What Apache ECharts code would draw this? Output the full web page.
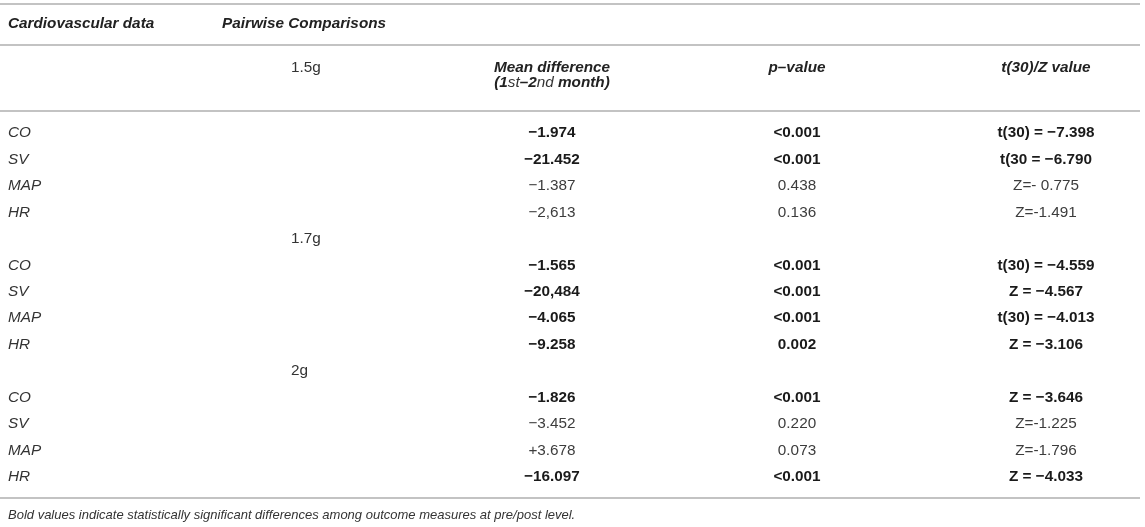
<!DOCTYPE html>
<html>
<head>
<meta charset="utf-8">
<script src="https://cdn.jsdelivr.net/npm/echarts@6/dist/echarts.min.js"></script>
<style>
  html, body { margin: 0; padding: 0; background: #fff; }
  #main { width: 1145px; height: 527px; }
</style>
</head>
<body>
<div id="main"></div>
<script>
// table contents
var headerLabels = ['Cardiovascular data', 'Pairwise Comparisons'];
var columnTitles = ['Mean difference', 'p–value', 't(30)/Z value'];
var groupLabels = ['1.5g', '1.7g', '2g'];
var measureLabels = ['CO', 'SV', 'MAP', 'HR'];
var meanDifference = ['−1.974', '−21.452', '−1.387', '−2,613',
                      '−1.565', '−20,484', '−4.065', '−9.258',
                      '−1.826', '−3.452', '+3.678', '−16.097'];
var pValues = ['<0.001', '<0.001', '0.438', '0.136',
               '<0.001', '<0.001', '<0.001', '0.002',
               '<0.001', '0.220', '0.073', '<0.001'];
var testValues = ['t(30) = −7.398', 't(30 = −6.790', 'Z=- 0.775', 'Z=-1.491',
                  't(30) = −4.559', 'Z = −4.567', 't(30) = −4.013', 'Z = −3.106',
                  'Z = −3.646', 'Z=-1.225', 'Z=-1.796', 'Z = −4.033'];
// bold = significant
var significant = [true, true, false, false,
                   true, true, true, true,
                   true, false, false, true];
var footnote = 'Bold values indicate statistically significant differences among outcome measures at pre/post level.';

// layout (pixels of the table)
var colX = { label: 8, pairwise: 222, group: 291, mean: 552, p: 797, z: 1046 };
var headY = 24, subY = 68, subLineH = 15;
var bodyTop = 133, rowH = 26.46;
var rules = [4, 45, 111, 498];
var noteY = 515;
var ruleEnd = 1140;

var FONT = '"Liberation Sans", Arial, Helvetica, sans-serif';
var FS = 15.3;
var styles = {
    head:  { fontWeight: 'bold', fontStyle: 'italic', fill: '#222', fontSize: FS },
    label: { fontStyle: 'italic', fill: '#333', fontSize: FS },
    group: { fill: '#333', fontSize: FS },
    bold:  { fontWeight: 'bold', fill: '#1a1a1a', fontSize: FS },
    plain: { fill: '#3c3c3c', fontSize: FS },
    note:  { fontStyle: 'italic', fill: '#333', fontSize: 13 }
};

// build the cells
var cells = [];
function cell(x, y, text, style, align) {
    cells.push([x, y, text, style, align || 'left']);
}
cell(colX.label, headY, headerLabels[0], 'head');
cell(colX.pairwise, headY, headerLabels[1], 'head');
cell(colX.mean, subY, columnTitles[0], 'head', 'center');
cell(colX.mean, subY + subLineH, 'RICH_MONTH', 'head', 'center');
cell(colX.p, subY, columnTitles[1], 'head', 'center');
cell(colX.z, subY, columnTitles[2], 'head', 'center');

for (var g = 0; g < groupLabels.length; g++) {
    var gy = g === 0 ? subY : bodyTop + (g * 5 - 1) * rowH;
    cell(colX.group, gy, groupLabels[g], 'group');
    for (var m = 0; m < measureLabels.length; m++) {
        var i = g * 4 + m;
        var y = bodyTop + (g * 5 + m) * rowH;
        var st = significant[i] ? 'bold' : 'plain';
        cell(colX.label, y, measureLabels[m], 'label');
        cell(colX.mean, y, meanDifference[i], st, 'center');
        cell(colX.p, y, pValues[i], st, 'center');
        cell(colX.z, y, testValues[i], st, 'center');
    }
}
cell(colX.label, noteY, footnote, 'note');

var chart = echarts.init(document.getElementById('main'), null, { renderer: 'canvas' });

chart.setOption({
    animation: false,
    grid: { left: 0, right: 0, top: 0, bottom: 0 },
    xAxis: { type: 'value', min: 0, max: 1145, show: false },
    yAxis: { type: 'value', min: 0, max: 527, inverse: true, show: false },
    series: [
        {
            // horizontal rules
            type: 'custom',
            silent: true,
            data: rules.map(function (r) { return [0, r]; }),
            renderItem: function (params, api) {
                var a = api.coord([0, api.value(1)]);
                var b = api.coord([ruleEnd, api.value(1)]);
                return {
                    type: 'line',
                    shape: { x1: a[0], y1: a[1], x2: b[0], y2: b[1] },
                    style: { stroke: '#c3c3c3', lineWidth: 2 }
                };
            }
        },
        {
            // text cells
            type: 'custom',
            silent: true,
            data: cells,
            renderItem: function (params, api) {
                var d = cells[params.dataIndex];
                var p = api.coord([d[0], d[1]]);
                var s = styles[d[3]];
                var style = {
                    x: p[0], y: p[1],
                    text: d[2],
                    align: d[4],
                    verticalAlign: 'middle',
                    fontFamily: FONT,
                    fontSize: s.fontSize,
                    fontWeight: s.fontWeight || 'normal',
                    fontStyle: s.fontStyle || 'normal',
                    fill: s.fill
                };
                if (d[2] === 'RICH_MONTH') {
                    // "(1st–2nd month)": ordinals in regular italic
                    var bi = { fontFamily: FONT, fontSize: FS, fontWeight: 'bold', fontStyle: 'italic', fill: '#222' };
                    var ni = { fontFamily: FONT, fontSize: FS, fontWeight: 'normal', fontStyle: 'italic', fill: '#333' };
                    style.text = '{b|(1}{n|st}{b|–2}{n|nd}{b| month)}';
                    style.rich = { b: bi, n: ni };
                }
                return { type: 'text', style: style };
            }
        }
    ]
});
</script>
</body>
</html>
